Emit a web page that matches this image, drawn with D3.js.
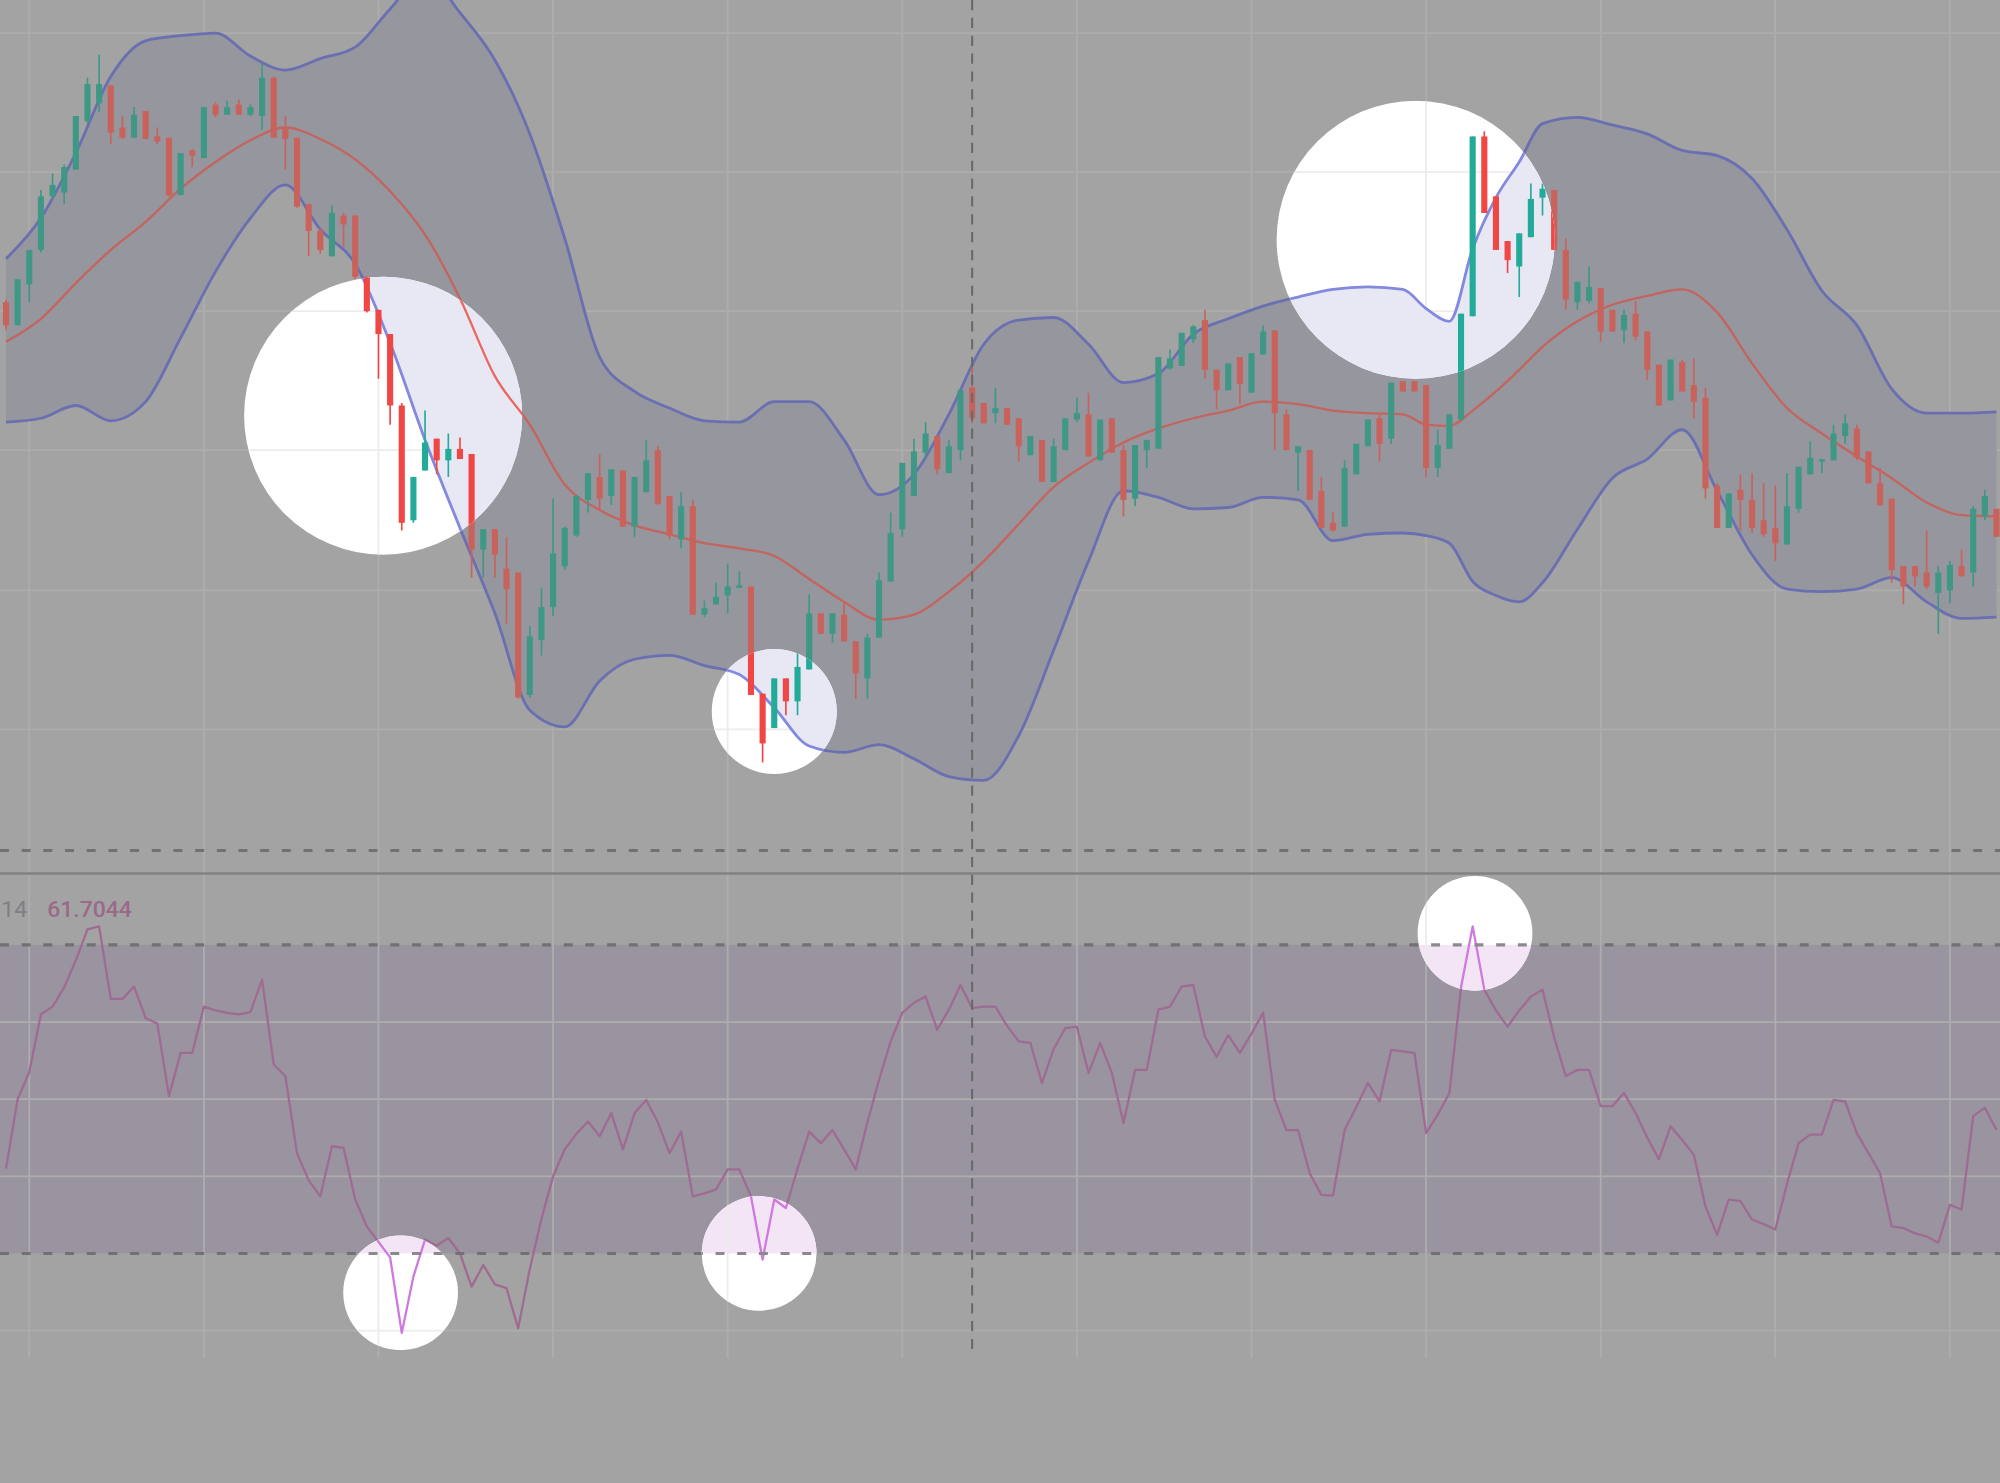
<!DOCTYPE html>
<html>
<head>
<meta charset="utf-8">
<script src="https://cdn.jsdelivr.net/npm/d3@7/dist/d3.min.js"></script>
<style>
  html, body { margin: 0; padding: 0; background: #a3a3a3; overflow: hidden; }
  svg { display: block; }
</style>
</head>
<body>
<div id="chart"></div>
<script>
// === OHLC ===
const opens = [
  76.3, 74.5, 77.7, 80.4, 84.6, 84.9, 86.7, 90.5, 91.9, 93.3,
  90.0, 89.2, 91.3, 89.3, 89.2, 84.7, 88.2, 87.6, 91.8, 91.0,
  91.8, 91.0, 90.9, 93.9, 90.0, 89.2, 84.0, 81.9, 79.9, 83.1,
  83.1, 78.3, 75.7, 73.8, 68.2, 59.2, 63.1, 65.6, 63.9, 64.8,
  64.4, 56.9, 58.5, 55.4, 55.1, 45.5, 49.8, 52.4, 55.6, 58.0,
  60.8, 62.6, 61.1, 63.1, 58.7, 61.4, 64.7, 61.1, 57.7, 60.3,
  51.8, 52.6, 53.3, 53.9, 54.0, 45.6, 42.9, 46.8, 45.0, 47.5,
  51.9, 50.3, 51.8, 49.7, 46.8, 50.0, 54.4, 58.5, 61.1, 64.5,
  65.8, 62.9, 64.7, 69.6, 68.4, 67.6, 68.0, 67.2, 64.3, 65.5,
  62.2, 64.7, 67.1, 67.5, 63.9, 67.2, 64.7, 60.9, 64.7, 64.8,
  71.1, 71.3, 73.4, 74.9, 71.0, 69.4, 72.0, 69.2, 72.2, 74.1,
  67.5, 64.5, 64.7, 61.5, 59.0, 58.7, 62.8, 65.0, 67.2, 65.6,
  70.1, 70.1, 69.8, 63.3, 64.8, 67.1, 75.2, 89.3, 84.6, 81.1,
  79.1, 81.4, 84.5, 85.1, 80.4, 76.3, 76.4, 77.4, 75.7, 74.1,
  75.4, 74.0, 71.4, 68.6, 71.6, 69.8, 68.8, 61.9, 58.6, 61.6,
  60.8, 59.2, 58.6, 57.3, 60.1, 62.8, 63.8, 63.9, 65.8, 66.4,
  64.6, 62.1, 60.9, 55.6, 55.6, 55.1, 53.5, 53.7, 55.6, 55.1,
  59.5, 60.1
];
const highs = [
  76.5, 78.1, 80.4, 85.1, 86.4, 87.1, 90.9, 93.9, 95.7, 93.3,
  90.9, 91.6, 91.3, 90.0, 89.2, 88.0, 88.3, 91.6, 92.0, 92.1,
  92.2, 91.8, 95.0, 94.0, 90.9, 89.2, 84.0, 82.1, 83.9, 83.3,
  83.1, 78.3, 75.7, 73.8, 68.4, 62.6, 67.8, 65.6, 66.0, 65.7,
  64.4, 58.5, 58.5, 57.9, 55.1, 50.9, 53.9, 60.9, 58.7, 61.2,
  62.9, 64.4, 63.2, 63.1, 62.6, 65.5, 65.0, 61.1, 61.4, 60.8,
  52.9, 54.3, 55.8, 55.2, 54.0, 45.6, 46.8, 46.8, 48.8, 53.4,
  51.9, 51.9, 52.8, 49.7, 50.3, 55.1, 59.8, 63.7, 65.6, 66.9,
  65.8, 65.5, 69.4, 71.2, 68.4, 69.6, 68.0, 67.2, 65.8, 65.5,
  65.6, 67.2, 68.8, 69.2, 67.1, 67.2, 65.1, 65.1, 65.5, 72.0,
  72.6, 73.9, 74.5, 75.7, 71.0, 71.5, 72.0, 72.3, 74.5, 74.1,
  67.9, 65.0, 64.7, 62.6, 59.8, 63.9, 65.2, 67.1, 67.6, 70.0,
  70.1, 70.1, 69.8, 66.3, 67.5, 75.4, 89.3, 89.7, 84.6, 81.1,
  81.7, 85.6, 85.6, 85.1, 81.3, 77.9, 79.1, 77.4, 75.7, 75.7,
  76.4, 74.0, 71.4, 71.8, 71.8, 71.9, 69.6, 62.1, 61.3, 62.8,
  62.9, 62.1, 61.9, 62.9, 63.4, 65.4, 64.0, 66.7, 67.5, 66.7,
  64.6, 63.3, 60.9, 55.6, 55.6, 58.4, 55.6, 56.0, 56.9, 60.3,
  61.6, 60.1
];
const lows = [
  74.1, 74.5, 76.3, 80.2, 84.4, 84.0, 86.7, 90.3, 91.2, 88.7,
  89.1, 89.2, 89.1, 88.7, 84.6, 84.7, 86.9, 87.6, 90.8, 91.0,
  91.0, 90.9, 89.8, 89.2, 86.7, 83.7, 79.9, 80.1, 79.9, 80.6,
  78.1, 75.5, 70.3, 66.7, 58.4, 59.0, 63.1, 62.8, 62.6, 64.0,
  54.7, 54.7, 54.7, 51.1, 45.2, 45.3, 48.6, 51.7, 55.3, 57.9,
  59.8, 60.0, 60.4, 58.7, 57.9, 61.4, 60.4, 57.7, 57.0, 51.8,
  51.6, 52.6, 51.9, 53.9, 45.5, 40.2, 42.9, 43.9, 43.9, 47.5,
  50.3, 49.6, 49.7, 45.2, 45.2, 50.0, 54.4, 57.9, 61.1, 64.0,
  62.8, 62.9, 63.9, 66.8, 66.8, 66.8, 66.7, 63.8, 64.3, 62.2,
  62.2, 64.7, 66.9, 64.2, 63.9, 64.5, 59.5, 60.3, 63.3, 64.8,
  71.0, 71.3, 73.1, 70.3, 67.9, 69.4, 68.3, 69.2, 72.2, 64.7,
  64.7, 61.5, 60.8, 58.6, 58.3, 58.7, 62.8, 65.0, 63.8, 65.2,
  69.3, 69.3, 62.6, 62.6, 64.8, 67.1, 75.2, 83.3, 80.4, 78.6,
  76.7, 81.4, 83.1, 80.4, 75.7, 75.7, 76.2, 73.2, 74.0, 73.1,
  73.3, 70.2, 68.2, 68.6, 69.3, 67.2, 60.9, 58.6, 58.6, 58.4,
  58.2, 57.9, 56.0, 57.3, 59.8, 62.8, 62.9, 63.9, 65.2, 63.9,
  62.1, 60.3, 54.3, 52.6, 54.0, 53.8, 50.3, 52.7, 54.8, 54.0,
  59.2, 57.9
];
const closes = [
  74.5, 78.1, 80.4, 84.6, 85.5, 86.9, 90.9, 93.4, 93.4, 89.6,
  89.2, 91.0, 89.1, 88.9, 84.7, 88.0, 87.8, 91.6, 91.0, 91.6,
  91.0, 91.6, 93.9, 89.2, 89.1, 83.8, 81.9, 80.4, 83.3, 82.4,
  78.3, 75.6, 73.8, 68.2, 59.0, 62.6, 65.3, 63.9, 64.8, 64.0,
  56.9, 58.5, 56.5, 53.8, 45.3, 50.1, 52.4, 56.6, 58.6, 61.1,
  62.9, 60.9, 63.2, 58.7, 62.6, 63.9, 60.5, 58.0, 60.3, 51.8,
  52.3, 53.2, 54.0, 54.1, 45.5, 41.7, 46.8, 45.0, 47.7, 51.9,
  50.3, 51.9, 49.7, 47.2, 50.0, 54.5, 58.2, 63.7, 64.6, 66.0,
  63.2, 65.0, 69.4, 67.2, 66.8, 68.0, 66.7, 65.0, 65.8, 62.2,
  65.0, 67.2, 67.6, 64.2, 67.1, 64.5, 60.8, 65.1, 65.5, 72.0,
  71.9, 73.9, 74.4, 71.0, 69.4, 71.5, 69.9, 72.3, 74.0, 67.6,
  64.7, 65.0, 60.8, 58.6, 58.4, 63.3, 65.2, 67.1, 65.2, 70.0,
  69.3, 69.3, 63.3, 65.1, 67.5, 75.4, 89.3, 83.3, 80.4, 79.6,
  81.7, 84.4, 85.2, 80.4, 76.5, 77.9, 77.5, 74.0, 74.0, 75.3,
  73.6, 71.0, 68.2, 71.8, 69.3, 68.5, 61.7, 58.6, 61.3, 60.8,
  58.6, 58.1, 57.4, 60.3, 63.4, 64.1, 64.0, 66.0, 66.8, 64.1,
  62.1, 60.4, 55.3, 54.0, 54.8, 54.0, 55.1, 55.7, 54.8, 60.1,
  61.1, 57.9
];

// === Bollinger bands, sampled at these bar indices ===
const bandIdx = [
  0, 3, 6, 9, 12, 15, 18, 21, 24, 27, 30, 33, 36, 39, 42, 45, 48, 51, 54, 57,
  60, 63, 66, 69, 72, 75, 78, 81, 84, 87, 90, 93, 96, 99, 102, 105, 108, 111, 114, 117,
  120, 122, 124, 126, 128, 130, 132, 135, 138, 141, 144, 147, 150, 153, 156, 159, 162, 165, 168, 171
];
const upperBand = [
  79.7, 82.9, 88.0, 94.0, 96.8, 97.2, 97.4, 95.6, 94.5, 95.4, 96.3, 99.3, 102.0, 99.0, 95.3, 89.5, 81.3, 72.0, 69.3, 68.0,
  67.0, 66.9, 68.5, 68.5, 65.5, 61.2, 62.8, 67.5, 73.0, 74.9, 75.1, 73.0, 70.0, 70.7, 73.8, 75.0, 76.0, 76.7, 77.3, 77.5,
  77.3, 75.8, 74.8, 80.5, 84.5, 87.3, 90.3, 90.8, 90.2, 89.5, 88.2, 87.8, 86.0, 82.0, 77.2, 74.5, 69.5, 67.6, 67.6, 67.7
];
const middleBand = [
  73.2, 75.0, 77.8, 80.4, 82.6, 85.2, 87.3, 89.0, 90.0, 89.1, 87.5, 85.0, 81.6, 76.6, 70.5, 66.7, 62.0, 60.0, 58.8, 58.1,
  57.4, 57.0, 56.4, 54.6, 52.8, 51.4, 51.8, 53.6, 56.0, 58.9, 61.8, 63.7, 65.3, 66.4, 67.2, 67.8, 68.5, 68.3, 67.8, 67.6,
  67.5, 66.7, 66.6, 67.8, 69.3, 71.0, 72.8, 74.8, 76.1, 76.8, 77.3, 75.5, 71.5, 68.0, 66.0, 64.2, 62.5, 60.6, 59.6, 59.5
];
const lowerBand = [
  66.9, 67.2, 68.2, 67.0, 68.5, 73.5, 78.7, 82.9, 85.5, 82.0, 79.3, 73.1, 65.5, 58.6, 51.9, 44.3, 43.0, 46.6, 48.3, 48.6,
  47.8, 47.1, 44.5, 41.5, 41.0, 41.6, 40.5, 39.1, 38.8, 42.3, 49.0, 56.0, 61.5, 61.0, 60.1, 60.2, 61.0, 60.8, 57.6, 58.1,
  58.2, 58.0, 57.4, 54.4, 53.3, 52.8, 54.3, 58.5, 62.5, 64.0, 66.3, 61.5, 56.5, 53.8, 53.6, 53.8, 54.7, 52.8, 51.5, 51.6
];

// === RSI 14 ===
const rsi = [
  41, 50, 53.5, 61, 62, 64.5, 68, 72, 72.4, 63,
  63, 64.6, 60.5, 59.8, 50.4, 56, 56, 62, 61.5, 61.2,
  61, 61.3, 65.5, 54.5, 53, 43, 39.5, 37.4, 43.9, 43.7,
  37, 33.5, 31.5, 29.5, 19.7, 27, 31.8, 31, 32, 30,
  25.7, 28.5, 26, 25.5, 20.3, 28, 34.5, 40, 43.5, 45.5,
  47.1, 45.2, 48.2, 43.5, 48.2, 49.9, 47, 43, 45.8, 37.4,
  37.8, 38.3, 40.9, 40.9, 37.4, 29.2, 37, 35.9, 41, 45.8,
  44.3, 46, 43.5, 40.9, 47, 52.5, 57.5, 61.2, 62.5, 63.3,
  59, 61.6, 64.8, 61.8, 62, 62, 59.5, 57.5, 57.3, 52.1,
  56.5, 59.2, 59.4, 53.4, 57.3, 53.4, 46.9, 53.8, 53.8, 61.6,
  62, 64.6, 64.8, 58.1, 55.5, 58.3, 56, 58.5, 61.2, 49.9,
  46, 46, 40.4, 37.6, 37.5, 46, 49, 52.1, 49.7, 56.4,
  56.2, 56, 45.6, 48, 50.8, 64.5, 72.4, 64.2, 61.5, 59.4,
  61.5, 63.3, 64.2, 58, 53, 53.8, 53.8, 49.1, 49.1, 50.8,
  48.2, 45, 42.2, 46.5, 44.7, 42.8, 36.1, 32.4, 37, 36.8,
  34.4, 33.8, 33.1, 39, 44.3, 45.4, 45.4, 49.9, 49.7, 45.6,
  43, 40.4, 33.5, 33.3, 32.6, 32.2, 31.4, 36.3, 35.7, 47.8,
  48.9, 46
];
const rsiLevels = [70, 30];
const rsiLabel = ["14", "61.7044"];

// grid / crosshair
const priceGrid = [97.4, 86.5, 75.6, 64.7, 53.7, 42.8];
const rsiGrid = [60, 50, 40, 20];
const timeGrid = [2, 17, 32, 47, 62, 77, 92, 107, 122, 137, 152, 167];
const crossBar = 83;
const crossPrice = 33.3;

// highlighted spots: [pane, bar index, value, radius]
const spots = [
  ["price", 32.4, 67.4, 109],
  ["price", 66.0, 44.2, 49],
  ["price", 121.1, 81.2, 109],
  ["rsi", 126.2, 71.5, 45],
  ["rsi", 33.9, 24.9, 45],
  ["rsi", 64.7, 30.0, 45]
];

// === LAYOUT (drawn in a 1568 x 1163 box, scaled to the window) ===
const W = 1568, H = 1163;
const mainBottom = 685, paneBottom = 1065;

const x = d3.scaleLinear().domain([0, 171]).range([4.7, 4.7 + 171 * 9.126]);
const y = d3.scaleLinear().domain([100, 35]).range([0, 650]);
const ry = d3.scaleLinear().domain([70, 30]).range([741, 983]);

const svg = d3.select("#chart").append("svg")
    .attr("width", 2000)
    .attr("height", 1483)
    .attr("viewBox", `0 0 ${W} ${H}`)
    .attr("preserveAspectRatio", "none");

const defs = svg.append("defs");
defs.append("clipPath").attr("id", "mainClip")
    .append("rect").attr("x", 0).attr("y", 0).attr("width", W).attr("height", mainBottom);
defs.append("clipPath").attr("id", "spotClip")
    .selectAll("circle")
    .data(spots)
    .join("circle")
    .attr("cx", d => x(d[1]))
    .attr("cy", d => d[0] === "price" ? y(d[2]) : ry(d[2]))
    .attr("r", d => d[3]);

const dim = {
    bg: "#a3a3a3", band: "#96969e", grid: "#adadad", bandLine: "#6a6fb2", mid: "#c4645e",
    up: "#3f9886", down: "#c9625b", rsiFill: "#9a94a0", rsiLine: "#a06b93",
    dash: "#717171", cross: "#686868", sep: "#828282", grey: "#7e7e84", label: "#9a6a8a"
};
const bright = {
    bg: "#ffffff", band: "#e8e8f5", grid: "#ececec", bandLine: "#8289df", mid: "#ec6660",
    up: "#22ab98", down: "#f04745", rsiFill: "#f4e5f6", rsiLine: "#cf78df",
    dash: "#8a8a8a", cross: "#777777", sep: "#999999", grey: "#8e8e94", label: "#b0709c"
};

const bars = d3.range(opens.length);
const bandPts = bandIdx.map((d, k) => ({ i: d, u: upperBand[k], m: middleBand[k], l: lowerBand[k] }));

function drawLayer(g, pal) {
    g.append("rect").attr("width", W).attr("height", H).attr("fill", pal.bg);

    // RSI zone between 70 and 30
    g.append("rect")
        .attr("x", 0).attr("width", W)
        .attr("y", ry(70)).attr("height", ry(30) - ry(70))
        .attr("fill", pal.rsiFill);

    // Grille
    g.append("g").selectAll("line")
        .data(timeGrid)
        .join("line")
        .attr("x1", d => x(d)).attr("x2", d => x(d))
        .attr("y1", 0).attr("y2", paneBottom)
        .attr("stroke", pal.grid).attr("stroke-width", 1.4);
    g.append("g").selectAll("line")
        .data(priceGrid)
        .join("line")
        .attr("x1", 0).attr("x2", W)
        .attr("y1", d => y(d)).attr("y2", d => y(d))
        .attr("stroke", pal.grid).attr("stroke-width", 1.4);
    g.append("g").selectAll("line")
        .data(rsiGrid)
        .join("line")
        .attr("x1", 0).attr("x2", W)
        .attr("y1", d => ry(d)).attr("y2", d => ry(d))
        .attr("stroke", pal.grid).attr("stroke-width", 1.4);

    const m = g.append("g").attr("clip-path", "url(#mainClip)");

    // Bollinger
    m.append("path")
        .datum(bandPts)
        .attr("fill", pal.band)
        .attr("d", d3.area().curve(d3.curveMonotoneX)
            .x(d => x(d.i)).y0(d => y(d.l)).y1(d => y(d.u)));

    const bandLine = key => d3.line().curve(d3.curveMonotoneX).x(d => x(d.i)).y(d => y(d[key]));
    m.append("path").datum(bandPts).attr("fill", "none")
        .attr("stroke", pal.bandLine).attr("stroke-width", 2.2).attr("d", bandLine("u"));
    m.append("path").datum(bandPts).attr("fill", "none")
        .attr("stroke", pal.bandLine).attr("stroke-width", 2.2).attr("d", bandLine("l"));
    m.append("path").datum(bandPts).attr("fill", "none")
        .attr("stroke", pal.mid).attr("stroke-width", 1.8).attr("d", bandLine("m"));

    // Bougies
    const candle = m.append("g").selectAll("g")
        .data(bars)
        .join("g");
    const col = i => closes[i] >= opens[i] ? pal.up : pal.down;

    candle.append("line")
        .attr("x1", i => x(i)).attr("x2", i => x(i))
        .attr("y1", i => y(highs[i])).attr("y2", i => y(lows[i]))
        .attr("stroke", col).attr("stroke-width", 1.3);

    candle.append("rect")
        .attr("x", i => x(i) - 2.4)
        .attr("width", 4.8)
        .attr("y", i => y(Math.max(opens[i], closes[i])))
        .attr("height", i => Math.max(1.2, Math.abs(y(opens[i]) - y(closes[i]))))
        .attr("fill", col);

    // RSI
    g.append("path")
        .datum(rsi)
        .attr("fill", "none")
        .attr("stroke", pal.rsiLine)
        .attr("stroke-width", 1.8)
        .attr("stroke-linejoin", "round")
        .attr("d", d3.line().x((d, i) => x(i)).y(d => ry(d)));

    g.append("g").selectAll("line")
        .data(rsiLevels)
        .join("line")
        .attr("x1", 0).attr("x2", W)
        .attr("y1", d => ry(d)).attr("y2", d => ry(d))
        .attr("stroke", pal.dash).attr("stroke-width", 2.4)
        .attr("stroke-dasharray", "7 10");

    // horizontal crosshair + pane separator
    g.append("line")
        .attr("x1", 0).attr("x2", W)
        .attr("y1", y(crossPrice)).attr("y2", y(crossPrice))
        .attr("stroke", pal.dash).attr("stroke-width", 2.2)
        .attr("stroke-dasharray", "7 10");
    g.append("line")
        .attr("x1", 0).attr("x2", W)
        .attr("y1", mainBottom).attr("y2", mainBottom)
        .attr("stroke", pal.sep).attr("stroke-width", 2);

    // vertical crosshair
    g.append("line")
        .attr("x1", x(crossBar)).attr("x2", x(crossBar))
        .attr("y1", 0).attr("y2", 1062)
        .attr("stroke", pal.cross).attr("stroke-width", 1.6)
        .attr("stroke-dasharray", "8 6");

    // Texte
    g.append("text")
        .attr("x", 1).attr("y", 719)
        .attr("font-family", "Roboto, 'DejaVu Sans', sans-serif")
        .attr("font-size", 18)
        .attr("fill", pal.grey)
        .text(rsiLabel[0]);
    g.append("text")
        .attr("x", 37).attr("y", 719)
        .attr("font-family", "Roboto, 'DejaVu Sans', sans-serif")
        .attr("font-size", 18)
        .attr("font-weight", 500)
        .attr("fill", pal.label)
        .text(rsiLabel[1]);
}

drawLayer(svg.append("g"), dim);
drawLayer(svg.append("g").attr("clip-path", "url(#spotClip)"), bright);
</script>
</body>
</html>
